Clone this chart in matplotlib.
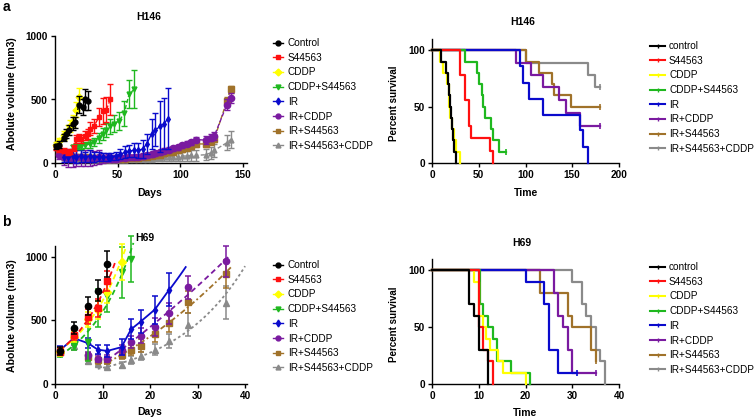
import numpy as np
import matplotlib
matplotlib.use('Agg')
import matplotlib.pyplot as plt
from matplotlib.lines import Line2D

plt.rcParams['font.family'] = ['Liberation Sans', 'DejaVu Sans']

# groups
groups = ['Control', 'S44563', 'CDDP', 'CDDP+S44563', 'IR', 'IR+CDDP', 'IR+S44563', 'IR+S44563+CDDP']
km_labels = ['control', 'S44563', 'CDDP', 'CDDP+S44563', 'IR', 'IR+CDDP', 'IR+S44563', 'IR+S44563+CDDP']
colors = ['#000000', '#ff1010', '#ffff00', '#1fb81f', '#0a0acc', '#7a1aa0', '#a0722a', '#8a8a8a']
markers = ['o', 's', 'D', 'v', 'd', 'o', 's', '^']

# ---- H146 tumour volume ----
a_ctrl_d = [1, 3, 7, 9, 11, 14, 16, 19, 22, 24, 26]
a_ctrl_v = [130, 145, 200, 230, 260, 310, 320, 460, 440, 500, 490]
a_ctrl_e = [20, 25, 30, 35, 40, 50, 45, 70, 60, 80, 75]
a_red_d = [1, 3, 7, 10, 12, 15, 17, 19, 21, 24, 26, 28, 31, 35, 38, 41, 44]
a_red_v = [120, 110, 95, 85, 90, 120, 190, 200, 190, 215, 230, 270, 290, 360, 410, 420, 500]
a_red_e = [20, 20, 20, 20, 20, 25, 30, 30, 30, 35, 40, 50, 55, 70, 100, 100, 120]
a_yel_d = [1, 3, 7, 10, 12, 14, 17, 19]
a_yel_v = [140, 170, 220, 260, 290, 330, 420, 520]
a_yel_e = [25, 30, 35, 40, 45, 50, 60, 70]
a_grn_d = [14, 17, 19, 21, 24, 28, 31, 35, 38, 41, 44, 47, 51, 55, 59, 63]
a_grn_v = [125, 130, 130, 135, 140, 150, 165, 200, 230, 260, 290, 310, 330, 390, 540, 580]
a_grn_e = [15, 20, 20, 25, 25, 30, 35, 40, 45, 55, 60, 65, 70, 100, 110, 150]
a_blu_d = [7, 10, 14, 17, 21, 24, 28, 31, 35, 38, 42, 45, 49, 52, 56, 59, 63, 66, 70, 73, 77, 80, 84, 87, 90]
a_blu_v = [45, 50, 55, 50, 55, 50, 55, 50, 50, 45, 45, 50, 55, 70, 85, 95, 100, 100, 110, 150, 230, 260, 290, 310, 350]
a_blu_e = [40, 45, 50, 50, 50, 40, 45, 40, 35, 30, 30, 30, 35, 40, 45, 50, 55, 60, 70, 80, 120, 130, 200, 200, 240]
a_late_d = [3, 7, 10, 14, 17, 21, 24, 28, 31, 35, 38, 42, 45, 49, 52, 56, 59, 63, 66, 70,
            73, 77, 80, 84, 87, 91, 94, 98, 101, 105, 108, 112, 120, 124, 127, 137, 140]
a_pur_v = [60, 45, 40, 40, 45, 45, 40, 40, 40, 45, 40, 40, 35, 35, 40, 40, 45, 45, 50, 55,
           60, 70, 75, 85, 95, 105, 115, 125, 140, 150, 165, 185, 180, 200, 215, 460, 510]
a_pur_e = [30, 60, 70, 70, 70, 65, 60, 60, 55, 55, 40, 30, 25, 25, 20, 20, 20, 20, 20, 20,
           20, 20, 20, 20, 20, 20, 20, 20, 20, 20, 20, 20, 30, 30, 30, 40, 40]
a_brn_v = [85, 60, 55, 50, 50, 45, 45, 40, 40, 40, 35, 35, 35, 35, 35, 35, 40, 40, 40, 45,
           50, 55, 60, 65, 75, 85, 90, 100, 110, 120, 135, 150, 150, 170, 190, 490, 580]
a_brn_e = [20, 20, 20, 20, 20, 20, 20, 20, 20, 20, 15, 15, 15, 15, 15, 15, 15, 15, 15, 15,
           15, 15, 20, 20, 20, 20, 20, 20, 20, 20, 25, 25, 25, 25, 25, 30, 30]
a_gry_v = [70, 40, 35, 30, 30, 30, 30, 30, 25, 25, 25, 25, 25, 25, 25, 25, 30, 30, 30, 30,
           35, 35, 40, 40, 45, 45, 50, 50, 55, 55, 60, 60, 65, 80, 100, 160, 185]
a_gry_e = [20, 20, 20, 20, 20, 20, 20, 20, 20, 20, 20, 20, 20, 20, 20, 20, 20, 20, 20, 20,
           25, 25, 25, 25, 30, 30, 35, 35, 40, 40, 45, 45, 45, 45, 50, 60, 70]

# ---- H69 tumour volume ----
b_days = [1, 4, 7, 9, 11, 14, 16, 18, 21, 24, 28, 36]
b_ctrl_v = [260, 440, 615, 735, 945]
b_ctrl_e = [30, 50, 70, 80, 100]
b_red_v = [255, 385, 530, 600, 810]
b_red_e = [30, 40, 60, 70, 80]
b_yel_v = [250, 370, 510, 580, 720, 960]
b_yel_e = [30, 40, 60, 70, 80, 140]
b_grn_v = [235, 300, 330, 600, 690, 880, 980]
b_grn_e = [25, 30, 150, 150, 120, 200, 180]
b_blu_v = [265, 360, 320, 270, 260, 290, 430, 490, 585, 740]
b_blu_e = [30, 40, 40, 35, 50, 60, 80, 90, 110, 130]
b_pur_v = [255, 350, 225, 200, 200, 270, 330, 380, 450, 555, 760, 965]
b_pur_e = [30, 40, 30, 25, 25, 40, 50, 60, 70, 80, 90, 120]
b_brn_v = [255, 380, 215, 185, 185, 230, 270, 300, 390, 480, 645, 865]
b_brn_e = [30, 40, 30, 25, 25, 30, 40, 50, 60, 70, 90, 110]
b_gry_v = [250, 300, 180, 160, 135, 150, 190, 220, 270, 340, 465, 640]
b_gry_e = [25, 30, 25, 20, 20, 25, 30, 35, 45, 55, 90, 130]

# ---- Kaplan-Meier, H146 ----
a_km_t = [[0, 10, 15, 17, 18, 19, 20, 21, 22, 24, 26],
          [0, 30, 35, 40, 42, 62, 65],
          [0, 9, 12, 16, 18, 19, 21, 24, 26, 30],
          [0, 35, 48, 50, 53, 55, 57, 63, 65, 72, 79],
          [0, 94, 97, 104, 119, 158, 161, 167],
          [0, 90, 106, 119, 136, 143, 158, 180],
          [0, 101, 114, 128, 130, 149, 180],
          [0, 101, 167, 174, 180]]
a_km_s = [[100, 90, 80, 70, 60, 50, 40, 30, 20, 10, 0],
          [100, 78, 56, 33, 22, 11, 0],
          [100, 90, 80, 70, 50, 40, 30, 20, 10, 0],
          [100, 90, 80, 70, 60, 50, 40, 30, 20, 10, 10],
          [100, 86, 71, 57, 43, 29, 14, 0],
          [100, 89, 78, 67, 56, 44, 33, 33],
          [100, 90, 80, 70, 60, 50, 50],
          [100, 89, 78, 67, 67]]
a_km_cens = [False, False, False, True, False, True, True, True]

# ---- Kaplan-Meier, H69 ----
b_km_t = [[0, 8, 9, 10, 12],
          [0, 10, 11, 12, 13],
          [0, 9, 10, 11, 11.5, 12.3, 14.2, 15.2, 20.2],
          [0, 10.2, 11, 12, 13, 14, 17, 21],
          [0, 20, 24, 25, 27, 31],
          [0, 26, 27, 28, 29, 30, 35],
          [0, 23, 29, 30, 34, 35],
          [0, 30, 32, 33, 34, 35, 36, 37]]
b_km_s = [[100, 70, 60, 30, 0],
          [100, 50, 30, 20, 0],
          [100, 90, 60, 50, 40, 30, 20, 10, 0],
          [100, 70, 60, 50, 40, 20, 10, 0],
          [100, 90, 70, 30, 10, 10],
          [100, 80, 60, 50, 30, 10, 10],
          [100, 80, 60, 50, 30, 20],
          [100, 90, 70, 60, 50, 30, 20, 0]]
b_km_cens = [False, False, False, False, True, True, True, False]

W, H = 754, 420
fig = plt.figure(figsize=(W / 100, H / 100), dpi=100)


def px_axes(x0, x1, ytop, ybot):
    return fig.add_axes([x0 / W, 1 - ybot / H, (x1 - x0) / W, (ybot - ytop) / H])


def style(ax):
    for s in ['top', 'right']:
        ax.spines[s].set_visible(False)
    for s in ['left', 'bottom']:
        ax.spines[s].set_linewidth(1.0)
    ax.tick_params(direction='out', length=3, width=1.0, labelsize=7.2, pad=2)
    for lab in ax.get_xticklabels() + ax.get_yticklabels():
        lab.set_fontweight('bold')


def ftext(x, y, s, **kw):
    fig.text(x / W, 1 - y / H, s, ha='center', va='center', **kw)


# ---------- top left ----------
ax1 = px_axes(55, 247, 36, 163)
a_series = [(a_ctrl_d, a_ctrl_v, a_ctrl_e), (a_red_d, a_red_v, a_red_e),
            (a_yel_d, a_yel_v, a_yel_e), (a_grn_d, a_grn_v, a_grn_e),
            (a_blu_d, a_blu_v, a_blu_e), (a_late_d, a_pur_v, a_pur_e),
            (a_late_d, a_brn_v, a_brn_e), (a_late_d, a_gry_v, a_gry_e)]
a_ms = [3.5, 3.5, 3.5, 3.5, 3, 4.5, 4.5, 3.5]
for i, (d, v, e) in enumerate(a_series):
    ls = '-' if i == 4 else (0, (3, 1.5))
    ax1.errorbar(d, v, yerr=e, color=colors[i], marker=markers[i], ms=a_ms[i],
                 ls=ls, lw=1.0, elinewidth=1.0, capsize=2.2, capthick=1.0,
                 zorder=10 - i, clip_on=False)
ax1.set_xlim(0, 153)
ax1.set_ylim(0, 1000)
ax1.set_xticks([0, 50, 100, 150])
ax1.set_yticks([0, 500, 1000])
style(ax1)

# ---------- bottom left ----------
ax3 = px_axes(55, 247, 246, 384)
b_series = [b_ctrl_v, b_red_v, b_yel_v, b_grn_v, b_blu_v, b_pur_v, b_brn_v, b_gry_v]
b_errs = [b_ctrl_e, b_red_e, b_yel_e, b_grn_e, b_blu_e, b_pur_e, b_brn_e, b_gry_e]
trend_end = [None, 12.8, 15, 16.5, 27.5, 36.5, 37, 40]
trend_ls = [None, (0, (3, 2)), (0, (3, 2)), (0, (3, 2)), '-', (0, (3, 2)), (0, (3, 1.5, 1, 1.5)), (0, (1.5, 1.5))]
for i, (v, e) in enumerate(zip(b_series, b_errs)):
    d = np.array(b_days[:len(v)], dtype=float)
    v = np.array(v, dtype=float)
    ax3.errorbar(d, v, yerr=e, color=colors[i], marker=markers[i], ms=4.5 if i != 4 else 3.5,
                 ls='none', elinewidth=1.1, capsize=2.2, capthick=1.1,
                 zorder=10 - i, clip_on=False)
    if trend_end[i] is None:
        continue
    if i in (1, 2, 3):
        k, b = np.polyfit(d, np.log(v), 1)
        xs = np.linspace(d[0], trend_end[i], 60)
        ys = np.exp(b + k * xs)
    elif i == 4:
        sel = d >= 11
        p = np.polyfit(d[sel], v[sel], 2)
        xs = np.linspace(24, trend_end[i], 30)
        ys = np.polyval(p, xs)
        ax3.plot(d, v, color=colors[i], lw=1.3, zorder=10 - i)
    elif i == 7:
        sel = d >= 11
        k, b = np.polyfit(d[sel], np.log(v[sel]), 1)
        xs = np.linspace(9, trend_end[i], 60)
        ys = np.exp(b + k * xs)
    else:
        sel = d >= 11
        p = np.polyfit(d[sel], v[sel], 2)
        xs = np.linspace(11, trend_end[i], 60)
        ys = np.polyval(p, xs)
    ax3.plot(xs, ys, color=colors[i], ls=trend_ls[i], lw=1.3, zorder=10 - i, clip_on=False)
ax3.set_xlim(0, 40.4)
ax3.set_ylim(0, 1085)
ax3.set_xticks([0, 10, 20, 30, 40])
ax3.set_yticks([0, 500, 1000])
style(ax3)

# ---------- survival plots ----------
ax2 = px_axes(432, 619, 39, 163)
ax4 = px_axes(432, 619, 259, 384)
for ax, ts, ss, cens, xmax, xt in [(ax2, a_km_t, a_km_s, a_km_cens, 200, [0, 50, 100, 150, 200]),
                                  (ax4, b_km_t, b_km_s, b_km_cens, 40, [0, 10, 20, 30, 40])]:
    for i in range(8):
        ax.step(ts[i], ss[i], where='post', color=colors[i], lw=1.6, zorder=10 - i,
                clip_on=False)
        if cens[i]:
            ax.plot(ts[i][-1], ss[i][-1], marker='|', ms=4, mew=1.2, color=colors[i],
                    zorder=10 - i, clip_on=False)
    ax.set_xlim(0, xmax)
    ax.set_ylim(0, 110)
    ax.set_xticks(xt)
    ax.set_yticks([0, 50, 100])
    style(ax)

# ---------- text ----------
bold7 = dict(fontsize=7.5, fontweight='bold')
ftext(149, 17, 'H146', **bold7)
ftext(523, 22, 'H146', **bold7)
ftext(145, 238, 'H69', **bold7)
ftext(522, 243, 'H69', **bold7)
ftext(150, 193, 'Days', **bold7)
ftext(150, 412, 'Days', **bold7)
ftext(526, 193, 'Time', **bold7)
ftext(525, 413, 'Time', **bold7)
ftext(12, 94, 'Abolute volume (mm3)', rotation=90, fontsize=7.6, fontweight='bold')
ftext(12, 316, 'Abolute volume (mm3)', rotation=90, fontsize=7.6, fontweight='bold')
ftext(394, 103, 'Percent survival', rotation=90, fontsize=7.0, fontweight='bold')
ftext(394, 324, 'Percent survival', rotation=90, fontsize=7.0, fontweight='bold')
ftext(6, 7, 'a', fontsize=10, fontweight='bold')
ftext(6, 222, 'b', fontsize=10, fontweight='bold')

# ---------- legends ----------
vol_handles = [Line2D([], [], color=colors[i], marker=markers[i], ms=3.5, lw=1.0)
               for i in range(8)]
km_handles = [Line2D([], [], color=colors[i], marker='|', ms=3.5, mew=1.0, lw=1.5)
              for i in range(8)]
for ax, handles, labels, x, y, hl, hp in [(ax1, vol_handles, groups, 270, 35, 1.0, 0.5),
                                          (ax3, vol_handles, groups, 270, 257, 1.0, 0.5),
                                          (ax2, km_handles, km_labels, 647, 38, 1.5, 0.4),
                                          (ax4, km_handles, km_labels, 647, 259, 1.5, 0.4)]:
    leg = ax.legend(handles, labels, loc='upper left', bbox_to_anchor=(x / W, 1 - y / H),
                    bbox_transform=fig.transFigure, frameon=False, fontsize=7.2,
                    handlelength=hl, handletextpad=hp, labelspacing=0.47,
                    borderaxespad=0, borderpad=0.3)

fig.savefig('out.png', dpi=100)
